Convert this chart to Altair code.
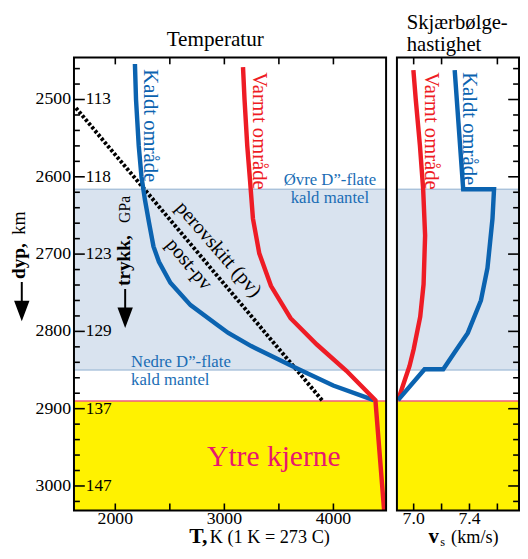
import altair as alt
import pandas as pd

FONT = "Liberation Serif"
BLUE = "#0b63b0"
RED = "#ee1c25"
TXTBLUE = "#1a6db5"
BAND = "#d9e3ef"
BANDLINE = "#8eaecf"
YELLOW = "#fff200"
CMB = "#ef5b80"
CORE_TXT = "#e8176e"

# ---------------- data ----------------
# Temperature profiles (depth km, T K)
cold_T_depth = [2454, 2500, 2560, 2600, 2630, 2660, 2690, 2710, 2737, 2766, 2791, 2802, 2819, 2848, 2870, 2889]
cold_T = [2180, 2190, 2215, 2240, 2272, 2310, 2350, 2400, 2505, 2690, 2930, 3036, 3246, 3667, 3998, 4370]
warm_T_depth = [2458, 2500, 2560, 2604, 2654, 2699, 2741, 2783, 2817, 2851, 2889, 3031.6]
warm_T = [3171, 3185, 3210, 3235, 3262, 3320, 3427, 3607, 3848, 4119, 4385, 4465]
# post-perovskite phase boundary
pv_T = [1639, 3896]
pv_depth = [2511, 2889]

# Shear-wave velocity profiles (depth km, vs km/s)
warm_vs_depth = [2462, 2500, 2560, 2616, 2676, 2739, 2781, 2823, 2845, 2861, 2889]
warm_vs = [6.998, 7.015, 7.045, 7.068, 7.082, 7.071, 7.047, 7.0, 6.97, 6.94, 6.888]
cold_vs_depth = [2462, 2616, 2616, 2654, 2718, 2760, 2802, 2827, 2849, 2849, 2889]
cold_vs = [7.294, 7.355, 7.576, 7.565, 7.529, 7.482, 7.388, 7.294, 7.212, 7.078, 6.888]

# axes
depth_labels = [2500, 2600, 2700, 2800, 2900, 3000]
depth_texts = ["2500", "2600", "2700", "2800", "2900", "3000"]
pressure_labels = ["113", "118", "123", "129", "137", "147"]
minor_depths = [2460, 2480, 2520, 2540, 2560, 2580, 2620, 2640, 2660, 2680, 2720, 2740,
                2760, 2780, 2820, 2840, 2860, 2880, 2920, 2940, 2960, 2980, 3020]
T_ticks = [2000, 2500, 3000, 3500, 4000]
T_labels = [2000, 3000, 4000]
T_texts = ["2000", "3000", "4000"]
vs_ticks_bottom = [7.0, 7.2, 7.4, 7.6]
vs_ticks_top = [7.0, 7.2, 7.6]
vs_labels = [7.0, 7.4]
vs_texts = ["7.0", "7.4"]

band_top, band_bottom = 2616, 2850
cmb_depth = 2890
depth_min, depth_max = 2445.6, 3031.6
T_min, T_max = 1621, 4483
vs_min, vs_max = 6.88, 7.755

# ---------------- layout (pixels inside the 520x543 canvas) ----------------
SVG_W, SVG_H = 520, 543
L0, L1 = 67, 384      # temperature panel
R0, R1 = 395, 519     # velocity panel
TOP, BOT = 46, 506

yscale = alt.Scale(domain=[depth_min, depth_max], range=[TOP, BOT], nice=False, zero=False)
x1scale = alt.Scale(domain=[T_min, T_max], range=[L0, L1], nice=False, zero=False)
x2scale = alt.Scale(domain=[vs_min, vs_max], range=[R0, R1], nice=False, zero=False)

px_per_km = (BOT - TOP) / (depth_max - depth_min)
px_per_K = (L1 - L0) / (T_max - T_min)
px_per_vs = (R1 - R0) / (vs_max - vs_min)

ARROW = "M0,-3.35L0,-0.9M-0.75,-1L0.75,-1L0,1Z"


def Y(field):
    return alt.Y(field, scale=yscale, axis=None)


def segs(pairs, xscale, color, width):
    """pairs: list of ((x0, d0), (x1, d1)) drawn as separate line segments."""
    rows = []
    for k, ((xa, da), (xb, db)) in enumerate(pairs):
        rows.append({"k": k, "sx": xa, "sy": da})
        rows.append({"k": k, "sx": xb, "sy": db})
    return alt.Chart(pd.DataFrame(rows)).mark_line(color=color, strokeWidth=width).encode(
        x=alt.X("sx:Q", scale=xscale, axis=None), y=Y("sy:Q"), detail="k:N")


def regions(xscale, xmin, xmax):
    band = alt.Chart(pd.DataFrame({"x1": [xmin], "x2": [xmax], "d1": [band_top], "d2": [band_bottom]})).mark_rect(
        color=BAND).encode(x=alt.X("x1:Q", scale=xscale, axis=None), x2="x2:Q", y=Y("d1:Q"), y2="d2:Q")
    core = alt.Chart(pd.DataFrame({"x1": [xmin], "x2": [xmax], "d1": [cmb_depth], "d2": [depth_max]})).mark_rect(
        color=YELLOW).encode(x=alt.X("x1:Q", scale=xscale, axis=None), x2="x2:Q", y=Y("d1:Q"), y2="d2:Q")
    blines = segs([((xmin, d), (xmax, d)) for d in (band_top, band_bottom)], xscale, BANDLINE, 1)
    cmb = segs([((xmin, cmb_depth), (xmax, cmb_depth))], xscale, CMB, 1.5)
    return [band, core, blines, cmb]


def curve(xs, ds, xscale, color, width=4.5, dash=None):
    df = pd.DataFrame({"x": xs, "d": ds, "i": list(range(len(xs)))})
    kw = dict(color=color, strokeWidth=width, strokeJoin="miter")
    if dash:
        kw["strokeDash"] = dash
    return alt.Chart(df).mark_line(**kw).encode(
        x=alt.X("x:Q", scale=xscale, axis=None), y=Y("d:Q"), order="i:Q")


def dtext(text, xv, dv, xscale, size, color="black", angle=0, align="center",
          baseline="alphabetic", weight="normal"):
    return alt.Chart(pd.DataFrame({"t": [text], "x": [xv], "d": [dv]})).mark_text(
        font=FONT, fontSize=size, color=color, angle=angle, align=align, baseline=baseline,
        fontWeight=weight).encode(text="t:N", x=alt.X("x:Q", scale=xscale, axis=None), y=Y("d:Q"))


def ptext(text, x, y, size, color="black", angle=0, align="left", baseline="alphabetic",
          weight="normal"):
    return alt.Chart(pd.DataFrame({"t": [text]})).mark_text(
        font=FONT, fontSize=size, color=color, angle=angle, align=align, baseline=baseline,
        fontWeight=weight).encode(text="t:N", x=alt.value(x), y=alt.value(y))


def ylabels(values, texts, x, align, size):
    return alt.Chart(pd.DataFrame({"yl": values, "lab": texts})).mark_text(
        font=FONT, fontSize=size, color="black", align=align, baseline="middle").encode(
        text="lab:N", x=alt.value(x), y=Y("yl:Q"))


def xlabels(values, texts, xscale, y):
    return alt.Chart(pd.DataFrame({"xl": values, "lab": texts})).mark_text(
        font=FONT, fontSize=18, color="black", align="center", baseline="alphabetic").encode(
        text="lab:N", x=alt.X("xl:Q", scale=xscale, axis=None), y=alt.value(y))


def arrow(x, y):
    return alt.Chart(pd.DataFrame({"a": [1]})).mark_point(
        shape=ARROW, size=289, filled=True, fill="black", stroke="black", strokeWidth=2,
        opacity=1).encode(x=alt.value(x), y=alt.value(y))


def frame(x0, x1):
    return alt.Chart(pd.DataFrame({"a": [1]})).mark_rect(
        filled=False, color="black", strokeWidth=2).encode(
        x=alt.value(x0), x2=alt.value(x1), y=alt.value(TOP), y2=alt.value(BOT))


# tick lengths (pixels -> data units)
maj_K, min_K = 11 / px_per_K, 6 / px_per_K
maj_vs, min_vs = 11 / px_per_vs, 6 / px_per_vs
tick_km = 7 / px_per_km

left_ticks = segs(
    [((T_min, d), (T_min + maj_K, d)) for d in depth_labels]
    + [((T_min, d), (T_min + min_K, d)) for d in minor_depths]
    + [((t, depth_min), (t, depth_min + tick_km)) for t in T_ticks]
    + [((t, depth_max - tick_km), (t, depth_max)) for t in T_ticks],
    x1scale, "black", 1.6)

right_ticks = segs(
    [((vs_max - maj_vs, d), (vs_max, d)) for d in depth_labels]
    + [((vs_max - min_vs, d), (vs_max, d)) for d in minor_depths]
    + [((v, depth_min), (v, depth_min + tick_km)) for v in vs_ticks_top]
    + [((v, depth_max - tick_km), (v, depth_max)) for v in vs_ticks_bottom],
    x2scale, "black", 1.6)

layers = regions(x1scale, T_min, T_max) + regions(x2scale, vs_min, vs_max) + [
    left_ticks,
    right_ticks,
    ylabels(depth_labels, depth_texts, L0 - 3, "right", 18),
    ylabels(depth_labels, pressure_labels, L0 + 12, "left", 17.5),
    xlabels(T_labels, T_texts, x1scale, 520),
    xlabels(vs_labels, vs_texts, x2scale, 520),
    curve(pv_T, pv_depth, x1scale, "black", width=4, dash=[3, 2]),
    curve(cold_T, cold_T_depth, x1scale, BLUE),
    curve(warm_T, warm_T_depth, x1scale, RED),
    curve(warm_vs, warm_vs_depth, x2scale, RED),
    curve(cold_vs, cold_vs_depth, x2scale, BLUE),
    dtext("Kaldt område", 2320, 2460.8, x1scale, 21, BLUE, angle=90, align="left", baseline="middle"),
    dtext("Varmt område", 3313, 2464.6, x1scale, 21, RED, angle=90, align="left", baseline="middle"),
    dtext("Varmt område", 7.12, 2464.6, x2scale, 21, RED, angle=90, align="left", baseline="middle"),
    dtext("Kaldt område", 7.395, 2464.6, x2scale, 21, BLUE, angle=90, align="left", baseline="middle"),
    dtext("perovskitt (pv)", 2945, 2694, x1scale, 20.5, angle=49, baseline="middle"),
    dtext("post-pv", 2675, 2713, x1scale, 20.5, angle=50, baseline="middle"),
    dtext("Øvre D”-flate", 3968, 2610.5, x1scale, 17, TXTBLUE),
    dtext("kald mantel", 3968, 2633.5, x1scale, 17, TXTBLUE),
    dtext("Nedre D”-flate", 2144.5, 2846, x1scale, 17, TXTBLUE, align="left"),
    dtext("kald mantel", 2144.5, 2869, x1scale, 17, TXTBLUE, align="left"),
    dtext("Ytre kjerne", 3454, 2974.7, x1scale, 30, CORE_TXT),
    ptext("Temperatur", 210.5, 34, 21.5, align="center"),
    ptext("Skjærbølge-", 405, 17, 21),
    ptext("hastighet", 405, 39, 21),
    ptext("dyp,", 17, 271, 19.5, angle=270, weight="bold"),
    ptext("km", 17, 226, 18.5, angle=270),
    arrow(14, 302.5),
    ptext("trykk,", 124, 278, 19.5, angle=270, weight="bold"),
    ptext("GPa", 124, 214, 16, angle=270),
    arrow(119, 309.5),
    ptext("T,", 184, 539, 22, weight="bold"),
    ptext("K (1 K = 273 C)", 205, 539, 18.5),
    ptext("v", 427, 539, 21, weight="bold"),
    ptext("s", 439, 542, 12.5),
    ptext("(km/s)", 450, 539, 18.5),
    frame(L0, L1),
    frame(R0, R1),
]

chart = alt.layer(*layers).properties(
    width=SVG_W, height=SVG_H, padding=0,
    autosize=alt.AutoSizeParams(type="none"),
).resolve_scale(x="independent").configure_view(strokeWidth=0)

chart.save("out.html", embed_options={"renderer": "svg", "actions": False})
